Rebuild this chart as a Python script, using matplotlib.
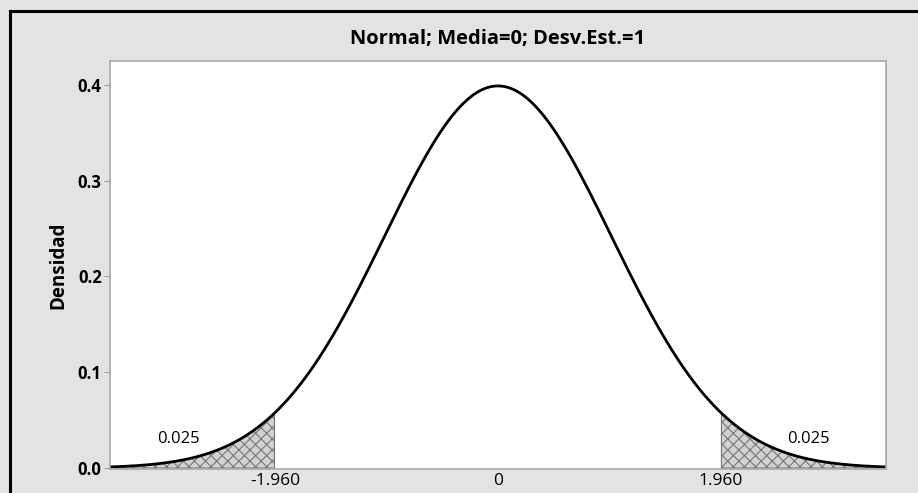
import numpy as np
import matplotlib
matplotlib.use("Agg")
import matplotlib.pyplot as plt
from matplotlib.lines import Line2D

# distribution parameters shown in the title
media = 0
desv_est = 1
z_crit = 1.960
tail_area = 0.025
x_ticks = [-1.960, 0, 1.960]
x_tick_labels = ["-1.960", "0", "1.960"]
y_ticks = [0.0, 0.1, 0.2, 0.3, 0.4]
y_tick_labels = ["0.0", "0.1", "0.2", "0.3", "0.4"]

plt.rcParams['font.family'] = ['Open Sans', 'DejaVu Sans']
plt.rcParams['hatch.linewidth'] = 0.8

x = np.linspace(-3.42, 3.42, 600)
y = np.exp(-0.5 * ((x - media) / desv_est) ** 2) / (desv_est * np.sqrt(2 * np.pi))

fig = plt.figure(figsize=(9.18, 4.93), dpi=100, facecolor='#e3e3e3')
ax = fig.add_axes([0.1198, 0.0487, 0.8453, 0.8276])
ax.set_facecolor('white')

left = x <= -z_crit
right = x >= z_crit
ax.fill_between(x[left], 0, y[left], facecolor='#d2d2d2', edgecolor='#767676',
                hatch='xxx', linewidth=0.8)
ax.fill_between(x[right], 0, y[right], facecolor='#d2d2d2', edgecolor='#767676',
                hatch='xxx', linewidth=0.8)
ax.plot(x, y, color='black', lw=2.0)

ax.text(-2.82, 0.030, f"{tail_area:.3f}", fontsize=12, ha='center', va='center')
ax.text(2.74, 0.030, f"{tail_area:.3f}", fontsize=12, ha='center', va='center')

ax.set_xlim(-3.42, 3.42)
ax.set_ylim(-0.001, 0.425)
ax.set_xticks(x_ticks)
ax.set_xticklabels(x_tick_labels, fontsize=12.5)
ax.set_yticks(y_ticks)
ax.set_yticklabels(y_tick_labels, fontsize=12, fontweight='bold')
ax.tick_params(axis='both', color='#a0a0a0', length=4, pad=2)
ax.tick_params(axis='x', length=0, pad=3)
for s in ax.spines.values():
    s.set_color('#a8a8a8')
    s.set_linewidth(1.2)

ax.set_ylabel("Densidad", fontsize=13.5, fontweight='bold', labelpad=7)
ax.set_title("Normal; Media=0; Desv.Est.=1", fontsize=14.5, fontweight='bold', pad=12)

# outer frame of the original graph window
fig.add_artist(Line2D([10/918, 1], [1 - 11/493, 1 - 11/493], color='black', lw=2.2,
                      transform=fig.transFigure))
fig.add_artist(Line2D([10/918, 10/918], [0, 1 - 11/493], color='black', lw=2.2,
                      transform=fig.transFigure))

fig.savefig("out.png", dpi=100, facecolor=fig.get_facecolor())
